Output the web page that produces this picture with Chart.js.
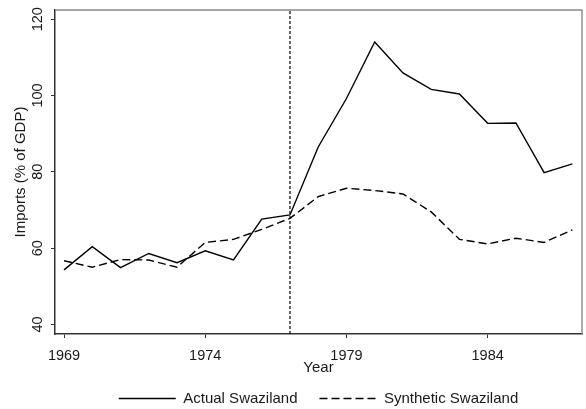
<!DOCTYPE html>
<html>
<head>
<meta charset="utf-8">
<script src="https://cdn.jsdelivr.net/npm/chart.js@4"></script>
<style>
  html, body { margin: 0; padding: 0; background: #fff; }
  #wrap { width: 586px; height: 409px; }
</style>
</head>
<body>
<div id="wrap"><canvas id="c" width="586" height="409"></canvas></div>
<script>
const years = [1969,1970,1971,1972,1973,1974,1975,1976,1977,1978,1979,1980,1981,1982,1983,1984,1985,1986,1987];
const actualSwaziland = [54.3,60.4,54.9,58.6,56.2,59.3,56.9,67.6,68.7,86.5,99.2,114.0,105.9,101.6,100.4,92.7,92.8,79.8,82.1];
const syntheticSwaziland = [56.7,55.0,57.0,56.9,55.0,61.5,62.3,64.9,67.8,73.5,75.7,75.1,74.2,69.5,62.3,61.1,62.6,61.5,64.8];
const xTickValues = [1969,1974,1979,1984];
const yTickValues = [40,60,80,100,120];
const treatmentYear = 1977;
const xMin = 1968.68, xMax = 1987.34;
const yMin = 37.5, yMax = 122.4;

Chart.defaults.font.family = "'Liberation Sans', Arial, sans-serif";
Chart.defaults.color = '#1a1a1a';

const toPoints = (xs, ys) => xs.map((x, i) => ({ x: x, y: ys[i] }));

const framePlugin = {
  id: 'frame',
  afterDatasetsDraw(chart) {
    const { ctx, chartArea: a } = chart;
    ctx.save();
    ctx.strokeStyle = '#8a8a8a';
    ctx.lineWidth = 1.4;
    ctx.beginPath();
    ctx.moveTo(a.left, a.top);
    ctx.lineTo(a.right, a.top);
    ctx.lineTo(a.right, a.bottom);
    ctx.stroke();
    ctx.restore();
  }
};

new Chart(document.getElementById('c'), {
  type: 'line',
  data: {
    datasets: [
      {
        label: 'Actual Swaziland',
        data: toPoints(years, actualSwaziland),
        borderColor: '#000',
        backgroundColor: '#000',
        borderWidth: 1.4,
        pointRadius: 0,
        tension: 0
      },
      {
        label: 'Synthetic Swaziland',
        data: toPoints(years, syntheticSwaziland),
        borderColor: '#000',
        backgroundColor: '#000',
        borderWidth: 1.4,
        borderDash: [8, 4],
        pointRadius: 0,
        tension: 0
      },
      {
        label: 'treatment',
        data: [{ x: treatmentYear, y: yMin }, { x: treatmentYear, y: yMax }],
        borderColor: '#000',
        borderWidth: 1.2,
        borderDash: [3, 2],
        pointRadius: 0
      }
    ]
  },
  options: {
    responsive: false,
    animation: false,
    events: [],
    layout: { padding: { top: 10, right: 4, left: 0, bottom: -7 } },
    plugins: {
      tooltip: { enabled: false },
      legend: {
        position: 'bottom',
        fullSize: false,
        labels: {
          generateLabels: (chart) => Chart.defaults.plugins.legend.labels.generateLabels(chart)
            .filter(item => item.text !== 'treatment')
            .map(item => {
              const ds = chart.data.datasets[item.datasetIndex];
              item.lineDash = ds.borderDash || [];
              item.strokeStyle = '#000';
              item.lineWidth = 1.4;
              return item;
            }),
          usePointStyle: true,
          pointStyle: 'line',
          usePointStyleWidth: true,
          pointStyleWidth: 57,
          boxWidth: 57,
          boxHeight: 15,
          padding: 22,
          color: '#1a1a1a',
          font: { size: 15 }
        }
      }
    },
    scales: {
      x: {
        type: 'linear',
        min: xMin,
        max: xMax,
        afterBuildTicks: (s) => { s.ticks = xTickValues.map(v => ({ value: v })); },
        afterFit: (s) => { s.height = 35; },
        grid: { display: true, drawOnChartArea: false, drawTicks: true, tickLength: 4, color: '#333', lineWidth: 1 },
        border: { display: true, color: '#333', width: 1.5 },
        ticks: { padding: 9.5, color: '#1a1a1a', font: { size: 14.5 }, callback: (v) => String(v), maxRotation: 0 },
        title: { display: true, text: 'Year', color: '#1a1a1a', font: { size: 15 }, padding: { top: 0, bottom: -7.5 } }
      },
      y: {
        min: yMin,
        max: yMax,
        afterBuildTicks: (s) => { s.ticks = yTickValues.map(v => ({ value: v })); },
        afterFit: (s) => { s.width = 55; },
        grid: { display: true, drawOnChartArea: false, drawTicks: true, tickLength: 4, color: '#333', lineWidth: 1 },
        border: { display: true, color: '#333', width: 1.5 },
        ticks: { padding: 1, color: '#1a1a1a', font: { size: 14.5 }, minRotation: 90, maxRotation: 90, crossAlign: 'center', callback: (v) => String(v) },
        title: { display: true, text: 'Imports (% of GDP)', color: '#1a1a1a', font: { size: 15 }, padding: { top: 12, bottom: 0 } }
      }
    }
  },
  plugins: [framePlugin]
});
</script>
</body>
</html>
